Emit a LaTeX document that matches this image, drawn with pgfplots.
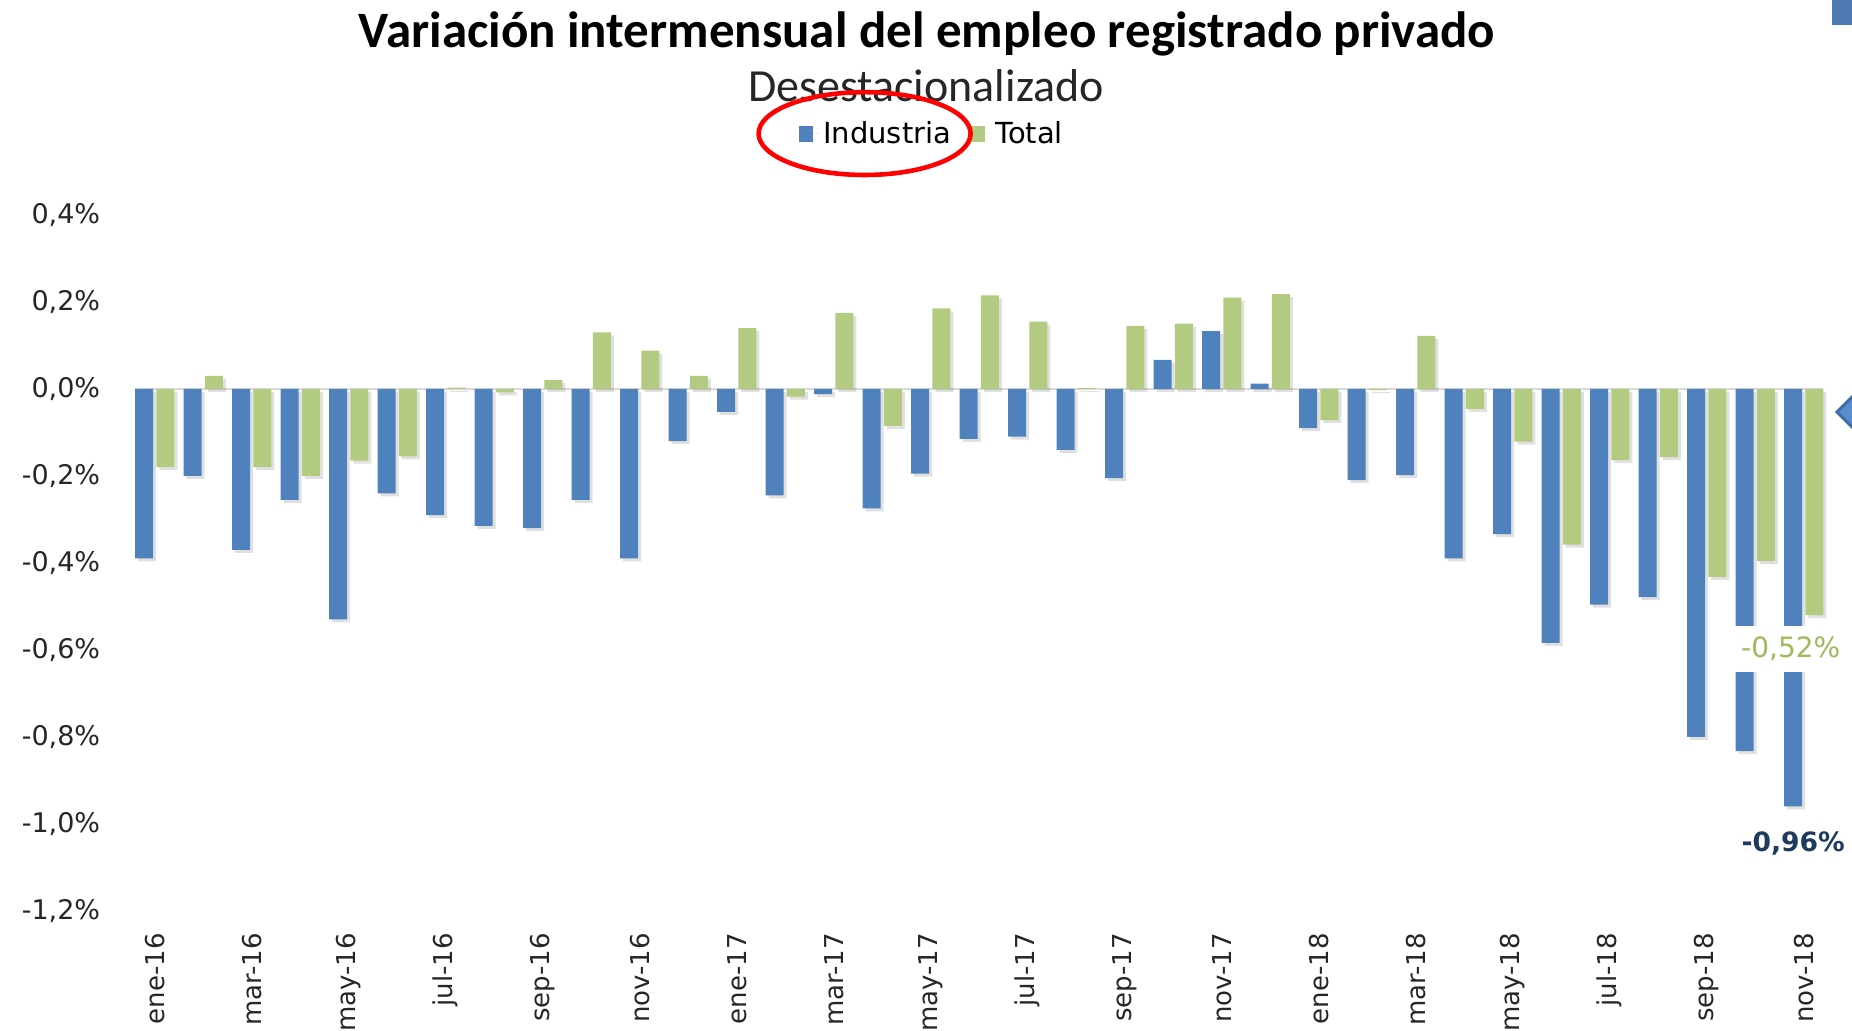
\documentclass[border=0pt]{standalone}
\usepackage{pgfplots}
\pgfplotsset{compat=1.18}
\usepackage{pgfplotstable}
\usepackage{fontspec}
\setmainfont{DejaVu Sans}
\newfontfamily\carlito{Carlito}
\newfontfamily\dejavu{DejaVu Sans}
\definecolor{indblue}{HTML}{4F81BD}
\definecolor{totgreen}{HTML}{B3CB80}
\definecolor{lblgreen}{HTML}{9BBB59}
\definecolor{lblblue}{HTML}{1F3A5F}
\definecolor{zerogray}{HTML}{D9D9D9}
\definecolor{decoblue}{HTML}{5A8ED0}
\definecolor{decoedge}{HTML}{3F6DA8}

\pgfplotstableread{
i ind tot
0 -0.39 -0.18
1 -0.20 0.03
2 -0.37 -0.18
3 -0.255 -0.20
4 -0.53 -0.165
5 -0.24 -0.155
6 -0.29 0.003
7 -0.315 -0.008
8 -0.32 0.02
9 -0.255 0.13
10 -0.39 0.088
11 -0.12 0.03
12 -0.053 0.14
13 -0.245 -0.018
14 -0.012 0.175
15 -0.275 -0.085
16 -0.195 0.185
17 -0.115 0.215
18 -0.11 0.155
19 -0.14 0.002
20 -0.205 0.145
21 0.067 0.15
22 0.133 0.21
23 0.012 0.218
24 -0.09 -0.072
25 -0.21 -0.003
26 -0.198 0.122
27 -0.39 -0.046
28 -0.334 -0.121
29 -0.584 -0.358
30 -0.496 -0.164
31 -0.479 -0.157
32 -0.80 -0.432
33 -0.833 -0.396
34 -0.96 -0.52
}\datatable

\begin{document}
\begin{tikzpicture}
\path[use as bounding box] (0,0) rectangle (926pt,515.5pt);
\begin{axis}[
  at={(65.25pt,60.15pt)}, anchor=south west,
  width=848.75pt, height=347.85pt, scale only axis,
  xmin=-0.5, xmax=34.5, ymin=-1.2, ymax=0.4,
  enlargelimits=false,
  axis line style={draw=none},
  major tick length=0pt,
  ytick={-1.2,-1.0,-0.8,-0.6,-0.4,-0.2,0,0.2,0.4},
  yticklabels={{-1,2\%},{-1,0\%},{-0,8\%},{-0,6\%},{-0,4\%},{-0,2\%},{0,0\%},{0,2\%},{0,4\%}},
  xtick={0,2,...,34},
  xticklabels={ene-16,mar-16,may-16,jul-16,sep-16,nov-16,ene-17,mar-17,may-17,jul-17,sep-17,nov-17,ene-18,mar-18,may-18,jul-18,sep-18,nov-18},
  yticklabel style={font=\dejavu\fontsize{13.5}{15}\selectfont, text=black!85, inner sep=0pt},
  yticklabel shift=15pt,
  xticklabel style={font=\dejavu\fontsize{13}{15}\selectfont, text=black!85, rotate=90, anchor=east, inner sep=0pt},
  xticklabel shift=11pt,
  legend style={at={(0.4728,1.117)}, anchor=center, draw=none, fill=none,
    font=\dejavu\fontsize{14.5}{16}\selectfont, legend columns=2,
    /tikz/every even column/.append style={column sep=8pt},
    nodes={inner sep=2pt}},
  legend image code/.code={\fill[#1] (0pt,-4pt) rectangle (7pt,4pt); \path (0pt,0pt) -- (10pt,0pt);},
  clip=false,
]
\draw[zerogray, line width=0.8pt] (axis cs:-0.4,0) -- (axis cs:34.4,0);
\addplot[ybar, bar width=9pt, bar shift=-3.8pt, fill=black, opacity=0.12, draw=none, yshift=-1.5pt, forget plot] table[x=i, y=ind] {\datatable};
\addplot[ybar, bar width=9pt, bar shift=6.8pt, fill=black, opacity=0.12, draw=none, yshift=-1.5pt, forget plot] table[x=i, y=tot] {\datatable};
\addplot[ybar, bar width=9pt, bar shift=-5.3pt, fill=indblue, draw=none] table[x=i, y=ind] {\datatable};
\addlegendentry{Industria}
\addplot[ybar, bar width=9pt, bar shift=5.3pt, fill=totgreen, draw=none] table[x=i, y=tot] {\datatable};
\addlegendentry{Total}
\node[fill=white, minimum height=23pt, inner xsep=3pt, text=lblgreen, font=\dejavu\fontsize{14}{16}\selectfont] at ([xshift=-6.5pt,yshift=-17pt]axis cs:34,-0.52) {-0,52\%};
\node[text=lblblue, font=\dejavu\bfseries\fontsize{13.3}{15}\selectfont] at ([xshift=-5.3pt,yshift=-18.5pt]axis cs:34,-0.96) {-0,96\%};
\end{axis}
\node[font=\carlito\bfseries\fontsize{25.5}{30}\selectfont] at (463.5pt,498.5pt) {Variación intermensual del empleo registrado privado};
\node[font=\carlito\fontsize{23}{27}\selectfont, text=black!85] at (463pt,472.5pt) {Desestacionalizado};
\draw[red, line width=2.3pt] (432.3pt,448.7pt) ellipse (53pt and 20.7pt);
\fill[decoblue!85!black] (916pt,503pt) rectangle (926pt,515.5pt);
\filldraw[fill=decoblue, draw=decoedge, line width=1.5pt] (918.5pt,309.5pt) -- (927pt,318pt) -- (927pt,301pt) -- cycle;
\end{tikzpicture}
\end{document}
